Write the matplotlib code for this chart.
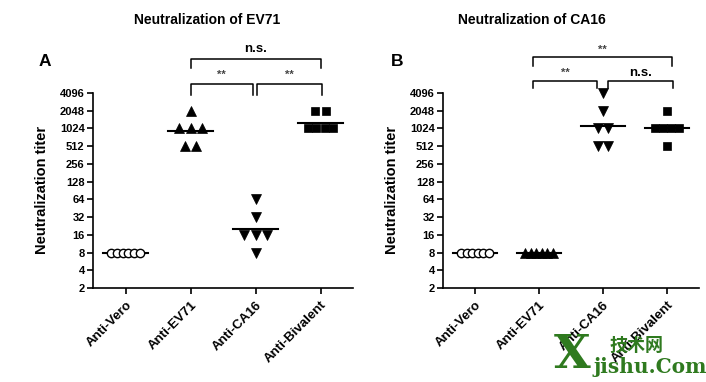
import numpy as np
import matplotlib
matplotlib.use("Agg")
import matplotlib.pyplot as plt

plt.rcParams['font.family'] = ['Liberation Sans', 'DejaVu Sans']
plt.rcParams['font.weight'] = 'bold'

# ---- data ----
categories = ["Anti-Vero", "Anti-EV71", "Anti-CA16", "Anti-Bivalent"]
ytick_values = [2, 4, 8, 16, 32, 64, 128, 256, 512, 1024, 2048, 4096]

# Panel A: Neutralization of EV71
a_vero = [8, 8, 8, 8, 8, 8]
a_ev71 = [2048, 1024, 1024, 1024, 512, 512]
a_ca16 = [64, 32, 16, 16, 16, 8]
a_biv = [2048, 2048, 1024, 1024, 1024, 1024]

# Panel B: Neutralization of CA16
b_vero = [8, 8, 8, 8, 8, 8]
b_ev71 = [8, 8, 8, 8, 8, 8]
b_ca16 = [4096, 2048, 1024, 1024, 512, 512]
b_biv = [2048, 1024, 1024, 1024, 1024, 512]

titles = ["Neutralization of EV71", "Neutralization of CA16"]
panel_letters = ["A", "B"]

# significance annotations: (x1, x2, label, level)
a_sig = [(1.0, 3.0, "n.s.", "high"), (1.0, 1.96, "**", "low"), (2.02, 3.03, "**", "low")]
b_sig = [(0.91, 3.08, "**", "high"), (0.91, 1.91, "**", "low"), (2.08, 3.09, "n.s.", "low")]

# ---- styles ----
marker_styles = [
    dict(marker='o', mfc='white', mec='black', ms=6, mew=1.0),
    dict(marker='^', mfc='black', mec='black', ms=6.5, mew=0.5),
    dict(marker='v', mfc='black', mec='black', ms=6.5, mew=0.5),
    dict(marker='s', mfc='black', mec='black', ms=6.0, mew=0.5),
]

fig = plt.figure(figsize=(7.06, 3.82), dpi=100)
W, H = 706, 382

def axes_px(left, right, bottom, top):
    return fig.add_axes([left / W, (H - bottom) / H, (right - left) / W, (bottom - top) / H])

axA = axes_px(93, 353, 288, 93)
axB = axes_px(443, 699, 288, 93)


def spread(values, xc):
    vals = np.asarray(values, dtype=float)
    xs = np.zeros_like(vals)
    for v in np.unique(vals):
        idx = np.where(vals == v)[0]
        n = len(idx)
        sp = min(0.17, 0.52 / n)
        offs = (np.arange(n) - (n - 1) / 2) * sp
        xs[idx] = xc + offs
    return xs


def draw_panel(ax, groups, sig, high_y, low_y):
    for i, vals in enumerate(groups):
        gm = 2 ** np.mean(np.log2(vals))
        ax.plot([i - 0.35, i + 0.35], [gm, gm], color='black', lw=1.5, zorder=2)
        xs = spread(vals, i)
        ax.plot(xs, vals, linestyle='none', zorder=3, clip_on=False, **marker_styles[i])
    ax.set_yscale('log', base=2)
    ax.set_ylim(2, 4096)
    ax.set_xlim(-0.5, 3.5)
    ax.set_yticks(ytick_values)
    ax.set_yticklabels([str(v) for v in ytick_values], fontsize=8, fontweight='bold')
    ax.yaxis.set_minor_locator(matplotlib.ticker.NullLocator())
    ax.set_xticks(range(len(categories)))
    ax.set_xticklabels(categories, rotation=45, ha='right', va='top',
                       rotation_mode='anchor', fontsize=9.5, fontweight='bold')
    for s in ['top', 'right']:
        ax.spines[s].set_visible(False)
    for s in ['left', 'bottom']:
        ax.spines[s].set_linewidth(1.2)
    ax.tick_params(axis='both', direction='out', length=4, width=1.2, pad=2)
    ax.tick_params(axis='x', pad=4)
    tr = ax.get_xaxis_transform()
    for (x1, x2, lab, lvl) in sig:
        top, bot, ty = high_y if lvl == 'high' else low_y
        ax.plot([x1, x1, x2, x2], [bot, top, top, bot], color='black', lw=1.1,
                transform=tr, clip_on=False)
        fs = 9.5 if lab == "n.s." else 8
        col = 'black' if lab == "n.s." else '#444444'
        ax.text((x1 + x2) / 2, ty, lab, transform=tr, ha='center', va='center',
                fontsize=fs, fontweight='bold', color=col, clip_on=False)


def fy(py):
    return (288 - py) / 195.0

draw_panel(axA, [a_vero, a_ev71, a_ca16, a_biv], a_sig,
           (fy(59), fy(68), fy(49)), (fy(84), fy(95), fy(75)))
draw_panel(axB, [b_vero, b_ev71, b_ca16, b_biv], b_sig,
           (fy(57), fy(66), fy(50)), (fy(81), fy(88), fy(73)))

# titles, y labels, panel letters
fig.text(207 / W, 1 - 20 / H, titles[0], ha='center', va='center', fontsize=10, fontweight='bold')
fig.text(532 / W, 1 - 20 / H, titles[1], ha='center', va='center', fontsize=10, fontweight='bold')
for xp in (42, 392):
    fig.text(xp / W, 1 - 190 / H, "Neutralization titer", rotation=90, ha='center', va='center',
             fontsize=10.5, fontweight='bold')
fig.text(45 / W, 1 - 61 / H, panel_letters[0], ha='center', va='center', fontsize=12.5, fontweight='bold')
fig.text(397 / W, 1 - 61 / H, panel_letters[1], ha='center', va='center', fontsize=12.5, fontweight='bold')

# watermark
green = '#2f7a1f'
fig.text(572 / W, 1 - 355 / H, "X", ha='center', va='center', fontsize=34,
         family=['DejaVu Serif'], fontweight='bold', color=green)
fig.text(650 / W, 1 - 367 / H, "jishu.Com", ha='center', va='center', fontsize=14.5,
         family=['DejaVu Serif'], fontweight='bold', color=green)
fig.text(637 / W, 1 - 345 / H, "技术网", ha='center', va='center', fontsize=13,
         family=['Noto Sans CJK SC', 'DejaVu Sans'], color=green)

fig.savefig("out.png", dpi=100)
